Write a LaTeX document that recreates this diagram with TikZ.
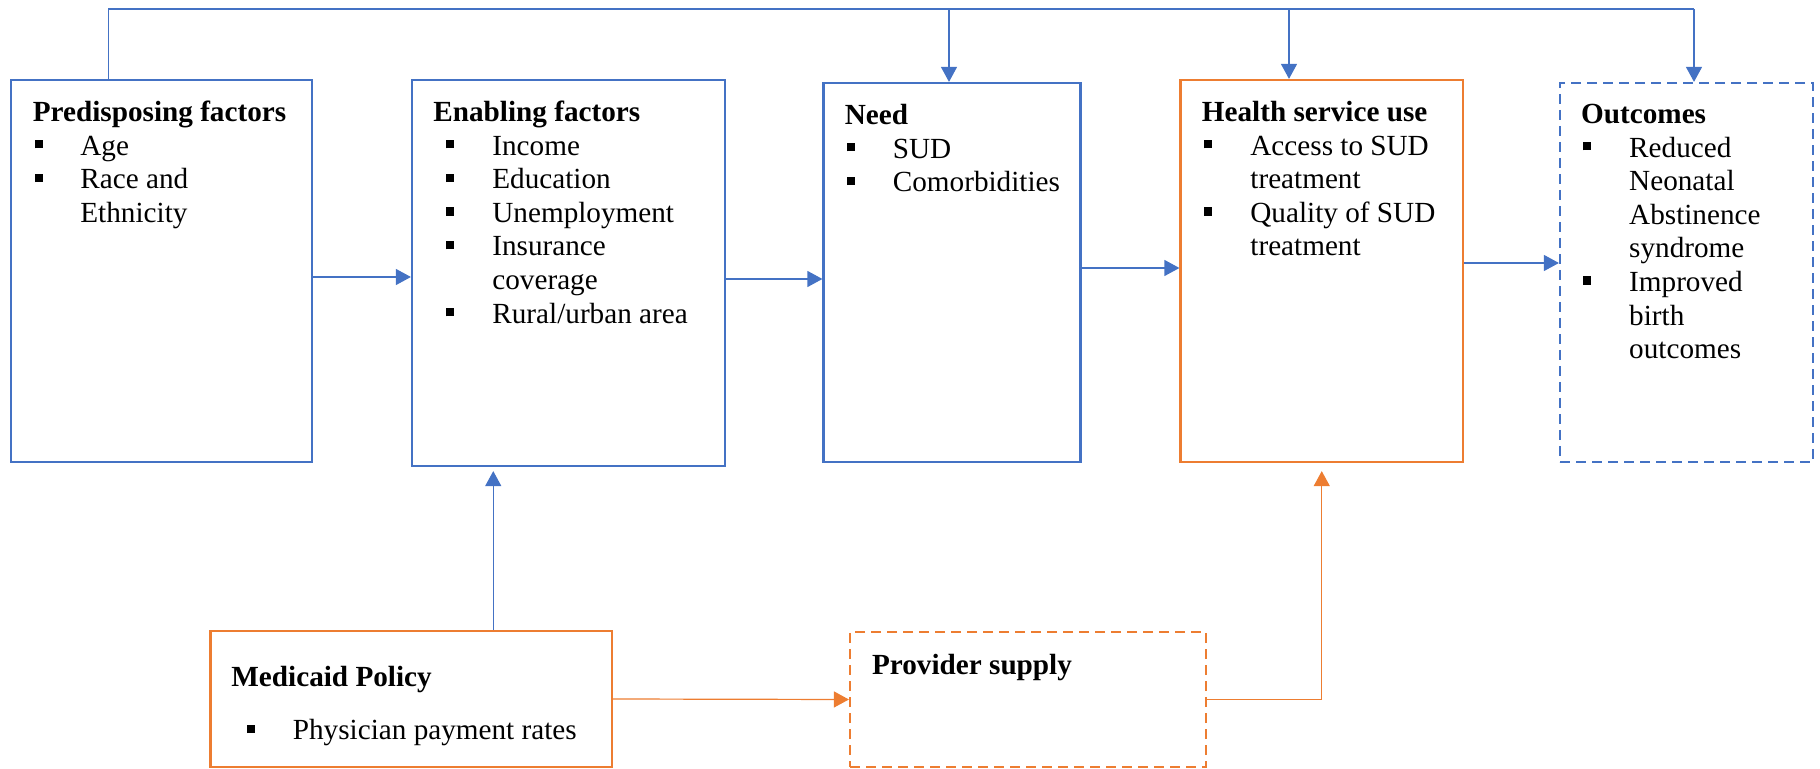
\documentclass[tikz,border=0pt]{standalone}
\usepackage{fontspec}
\setmainfont{Liberation Serif}
\usetikzlibrary{arrows.meta,fit}
\definecolor{myblue}{HTML}{4472C4}
\definecolor{myorange}{HTML}{ED7D31}
\newcommand\sqb{\rule[3.3pt]{3.9pt}{4.2pt}}
\newcommand\bul[2]{\makebox[#2][l]{\hspace*{#1}\sqb}}
\begin{document}
\begin{tikzpicture}[x=0.5pt,y=-0.5pt,
  box/.style={draw, line width=1.1pt, inner sep=0pt},
  bbox/.style={box, draw=myblue},
  obox/.style={box, draw=myorange},
  dsh/.style={dash pattern=on 5pt off 3pt},
  txt/.style={inner sep=0pt, anchor=base west, font=\fontsize{14.6}{16.8}\selectfont},
  conn/.style={line width=0.6pt},
  bline/.style={conn, draw=myblue},
  barr/.style={conn, draw=myblue, -{Triangle[length=7.5pt,width=8pt]}},
  oarr/.style={conn, draw=myorange, -{Triangle[length=7.5pt,width=8pt]}}]
\useasboundingbox (0,0) rectangle (1820,769);
% boxes
\node[bbox, fit={(11,80) (312,462)}] (pred) {};
\node[bbox, fit={(412,80) (725,466)}] (enab) {};
\node[bbox, fit={(823.5,83) (1080.5,462)}] (need) {};
\node[obox, fit={(1180.5,80) (1463,462)}] (hsu) {};
\node[bbox, dsh, fit={(1560,83) (1813,462)}] (out) {};
\node[obox, fit={(210.5,631) (612,767)}] (med) {};
\node[obox, dsh, fit={(850,632) (1206,767)}] (prov) {};
% texts
\node[txt] (predT) at (32.5,121.5) {\begin{tabular}[t]{@{}l@{}}\textbf{Predisposing factors}\\
 \bul{1.25pt}{23.75pt}Age\\
 \bul{1.25pt}{23.75pt}Race and\\
 \hspace*{23.75pt}Ethnicity\end{tabular}};
\node[txt] (enabT) at (433,121.5) {\begin{tabular}[t]{@{}l@{}}\textbf{Enabling factors}\\
 \bul{6.5pt}{29.5pt}Income\\
 \bul{6.5pt}{29.5pt}Education\\
 \bul{6.5pt}{29.5pt}Unemployment\\
 \bul{6.5pt}{29.5pt}Insurance\\
 \hspace*{29.5pt}coverage\\
 \bul{6.5pt}{29.5pt}Rural/urban area\end{tabular}};
\node[txt] (needT) at (844.5,124.5) {\begin{tabular}[t]{@{}l@{}}\textbf{Need}\\
 \bul{1pt}{24pt}SUD\\
 \bul{1pt}{24pt}Comorbidities\end{tabular}};
\node[txt] (hsuT) at (1201.5,121.5) {\begin{tabular}[t]{@{}l@{}}\textbf{Health service use}\\
 \bul{1pt}{24.25pt}Access to SUD\\
 \hspace*{24.25pt}treatment\\
 \bul{1pt}{24.25pt}Quality of SUD\\
 \hspace*{24.25pt}treatment\end{tabular}};
\node[txt] (outT) at (1580.8,123.5) {\begin{tabular}[t]{@{}l@{}}\textbf{Outcomes}\\
 \bul{1pt}{24pt}Reduced\\
 \hspace*{24pt}Neonatal\\
 \hspace*{24pt}Abstinence\\
 \hspace*{24pt}syndrome\\
 \bul{1pt}{24pt}Improved\\
 \hspace*{24pt}birth\\
 \hspace*{24pt}outcomes\end{tabular}};
\node[txt] (medT) at (231,686.5) {\begin{tabular}[t]{@{}l@{}}\textbf{Medicaid Policy}\\[9.8pt]
 \bul{7.8pt}{30.75pt}Physician payment rates\end{tabular}};
\node[txt] (provT) at (871.7,674) {\textbf{Provider supply}};
% top connector
\coordinate (tL) at (108.6,9);
\coordinate (tN) at (949,9);
\coordinate (tH) at (1289,9);
\coordinate (tO) at (1694,9);
\draw[bline] (pred.north -| tL) -- (tL) -- (tO);
\draw[barr] (tN) -- (need.north -| tN);
\draw[barr] (tH) -- (hsu.north -| tH);
\draw[barr] (tO) -- (out.north -| tO);
% horizontal connectors
\draw[barr] ([yshift=-3pt]pred.east) -- ([yshift=-3pt]pred.east -| enab.west);
\draw[barr] ([yshift=-3pt]enab.east) -- ([yshift=-3pt]enab.east -| need.west);
\draw[barr] ([yshift=2.25pt]need.east) -- ([yshift=2.25pt]need.east -| hsu.west);
\draw[barr] ([yshift=4pt]hsu.east) -- ([yshift=4pt]hsu.east -| out.west);
% bottom connectors
\draw[barr, shorten >=2pt] ([xshift=41pt]med.north) -- ([xshift=41pt]med.north |- enab.south);
\draw[oarr] (med.east) -- (prov.west);
\draw[oarr, shorten >=4pt] (prov.east) -| (hsu.south);
\end{tikzpicture}
\end{document}
